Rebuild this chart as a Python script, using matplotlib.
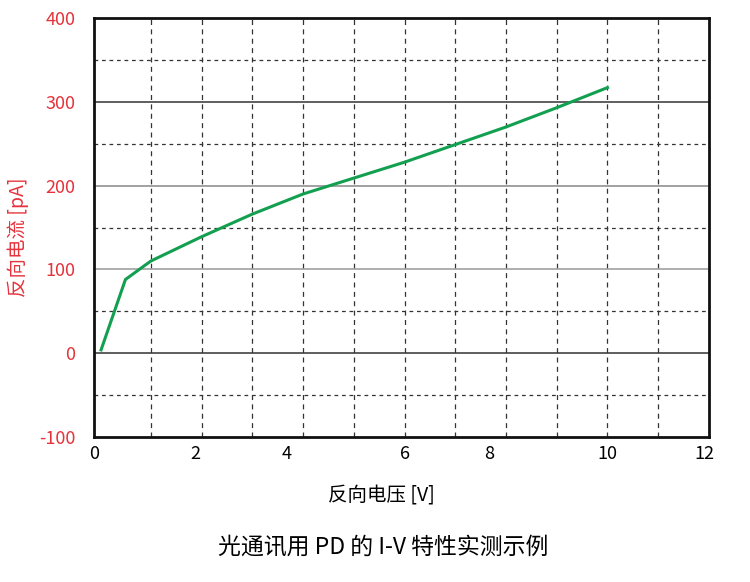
import matplotlib
matplotlib.use('Agg')
import matplotlib.pyplot as plt

plt.rcParams['font.family'] = ['Noto Sans CJK SC', 'DejaVu Sans']

# reverse voltage [V] vs reverse current [pA]
voltage = [0.02, 0.5, 1.0, 2.0, 3.0, 4.0, 5.0, 6.0, 7.0, 8.0, 9.0, 10.0]
current = [4, 88, 110, 139, 166, 190, 209, 228, 249, 270, 293, 317]

y_ticks = [-100, 0, 100, 200, 300, 400]
y_minor = [-50, 50, 150, 250, 350]
x_labels = ['0', '2', '4', '6', '8', '10', '12']
# the labels in the original sit a bit off the grid
x_label_pos = [-0.12, 1.87, 3.67, 6.0, 7.67, 10.0, 11.9]

red = '#e5333c'
green = '#12a050'

fig = plt.figure(figsize=(7.5, 5.82), dpi=100)
ax = fig.add_axes([0.1253, 0.2491, 0.82, 0.7199])

# grid
for v in range(1, 12):
    ax.axvline(v, color='#333333', lw=0.9, ls=(0, (4, 3.5)), zorder=1)
for y in y_minor:
    ax.axhline(y, color='#333333', lw=0.9, ls=(0, (3, 3)), zorder=1)
for y, c in zip([0, 100, 200, 300], ['#333333', '#999999', '#888888', '#333333']):
    ax.axhline(y, color=c, lw=1.1, zorder=1)

ax.plot(voltage, current, color=green, lw=2.2, zorder=3)

ax.set_xlim(0, 12)
ax.set_ylim(-100, 400)
ax.set_yticks(y_ticks)
ax.set_yticklabels([str(t) for t in y_ticks], color=red, fontsize=13)
ax.set_xticks(x_label_pos)
ax.set_xticklabels(x_labels, fontsize=13)
ax.tick_params(axis='both', length=0)
ax.tick_params(axis='y', pad=13.5)
ax.tick_params(axis='x', pad=6)

for s in ax.spines.values():
    s.set_linewidth(2.0)
    s.set_color('#111111')

fig.text(0.024, 0.593, '反向电流 [pA]', color=red, fontsize=14,
         rotation=90, ha='center', va='center')
fig.text(0.508, 0.148, '反向电压 [V]', fontsize=14, ha='center', va='center')
fig.text(0.511, 0.06, '光通讯用 PD 的 I-V 特性实测示例', fontsize=16.5,
         ha='center', va='center')

fig.savefig('out.png', dpi=100)
